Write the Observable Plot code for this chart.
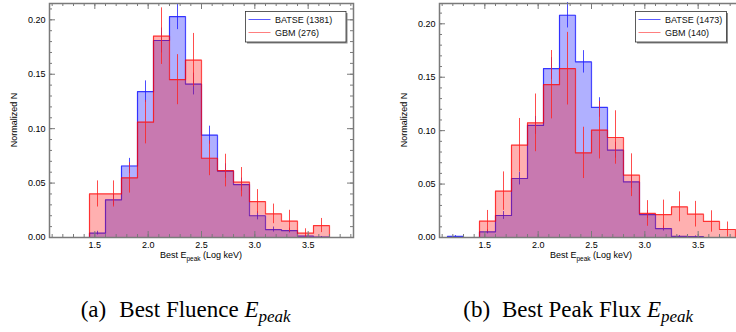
<!DOCTYPE html>
<html><head><meta charset="utf-8">
<script src="https://cdn.jsdelivr.net/npm/d3@7"></script>
<script src="https://cdn.jsdelivr.net/npm/@observablehq/plot@0.6"></script>
<style>
html,body{margin:0;padding:0;background:#fff;}
#wrap{position:relative;width:736px;height:332px;overflow:hidden;font-family:"Liberation Sans",Arial,sans-serif;}
.panel{position:absolute;top:0;}
#cap{position:absolute;left:0;top:0;}
</style></head>
<body><div id="wrap"></div>
<script>
// ---------- data ----------
// (a) Best Fluence Epeak
const edgesA   = [1.45,1.60,1.75,1.90,2.05,2.20,2.35,2.50,2.65,2.80,2.95,3.10,3.25,3.40,3.55,3.70];
const batseA   = [0.004,0.0346,0.0657,0.134,0.181,0.203,0.141,0.094,0.061,0.0486,0.020,0.0073,0.0064,0.0012,0.0003];
const batseErrA= [0.0017,0.005,0.007,0.0099,0.0115,0.012,0.010,0.0083,0.0067,0.006,0.0038,0.0023,0.0022,0.001,0.0005];
const gbmA     = [0.040,0.040,0.0548,0.106,0.185,0.145,0.163,0.0728,0.0615,0.0508,0.033,0.0217,0.015,0.004,0.011];
const gbmErrA  = [0.012,0.012,0.014,0.020,0.026,0.023,0.0245,0.016,0.015,0.0135,0.011,0.009,0.010,0.004,0.0065];
// (b) Best Peak Flux Epeak
const edgesB   = [1.15,1.30,1.45,1.60,1.75,1.90,2.05,2.20,2.35,2.50,2.65,2.80,2.95,3.10,3.25,3.40,3.55,3.70,3.85];
const batseB   = [0.001,0,0.0053,0.0206,0.0552,0.1049,0.158,0.208,0.1644,0.1217,0.0817,0.052,0.0215,0.0084,0.001,0.0008,0,0];
const batseErrB= [0.0008,0,0.0019,0.0037,0.006,0.0084,0.0103,0.0119,0.0105,0.0091,0.0075,0.006,0.0038,0.0024,0.0008,0.0007,0,0];
const gbmB     = [0,0,0.0153,0.0434,0.0864,0.1073,0.143,0.158,0.0792,0.1005,0.0936,0.0583,0.0225,0.0215,0.0287,0.0218,0.015,0.0075];
const gbmErrB  = [0,0,0.010,0.018,0.025,0.027,0.032,0.034,0.024,0.027,0.025,0.020,0.012,0.0135,0.014,0.012,0.010,0.007];
// axes
const xDomain = [1.075, 3.925];
const xMajor = [1.5, 2.0, 2.5, 3.0, 3.5];
const xMinor = d3.range(11, 40).map(d => d / 10);
const yMajor = [0, 0.05, 0.10, 0.15, 0.20];
const yMinor = d3.range(0, 22).map(d => d / 100);
const legendA = ["BATSE (1381)", "GBM (276)"];
const legendB = ["BATSE (1473)", "GBM (140)"];

const W = 368, H = 262, mL = 49, mR = 15, mT = 3, mB = 25;
const FW = W - mL - mR, FH = H - mT - mB;
const BLUE = "#0000ff", RED = "#ff0000", FRAME = "#7a7a7a";

function panel(edges, blue, blueErr, red, redErr, yMax, legend, legendW) {
  const n = blue.length;
  const bins = d3.range(n).map(i => ({x1: edges[i], x2: edges[i + 1], xc: (edges[i] + edges[i + 1]) / 2,
    b: blue[i], be: blueErr[i], r: red[i], re: redErr[i]}));
  const step = vals => [{x: edges[0], y: 0}, ...vals.map((v, i) => ({x: edges[i], y: v})),
    {x: edges[n], y: vals[n - 1]}, {x: edges[n], y: 0}];
  const svg = Plot.plot({
    width: W, height: H, marginLeft: mL, marginRight: mR, marginTop: mT, marginBottom: mB,
    style: {fontFamily: '"Liberation Sans", Arial, sans-serif', fontSize: "9px", color: "#000", background: "transparent", overflow: "visible"},
    x: {domain: xDomain},
    y: {domain: [0, yMax]},
    marks: [
      Plot.rect(bins, {x1: "x1", x2: "x2", y1: () => 0, y2: "b", fill: BLUE, fillOpacity: 0.31}),
      Plot.line(step(blue), {x: "x", y: "y", curve: "step-after", stroke: BLUE, strokeOpacity: 0.72, strokeWidth: 1.2}),
      Plot.ruleX(bins.filter(d => d.be > 0), {x: "xc", y1: d => d.b - d.be, y2: d => d.b + d.be, stroke: "#2020ff", strokeOpacity: 0.8, strokeWidth: 1}),
      Plot.rect(bins, {x1: "x1", x2: "x2", y1: () => 0, y2: "r", fill: RED, fillOpacity: 0.31}),
      Plot.line(step(red), {x: "x", y: "y", curve: "step-after", stroke: RED, strokeOpacity: 0.72, strokeWidth: 1.2}),
      Plot.ruleX(bins.filter(d => d.re > 0), {x: "xc", y1: d => Math.max(0, d.r - d.re), y2: d => d.r + d.re, stroke: "#ff2020", strokeOpacity: 0.8, strokeWidth: 1}),
      // inward ticks on all four sides
      Plot.tickX(xMinor, {x: d => d, insetTop: FH - 3, stroke: FRAME}),
      Plot.tickX(xMinor, {x: d => d, insetBottom: FH - 3, stroke: FRAME}),
      Plot.tickX(xMajor, {x: d => d, insetTop: FH - 6, stroke: FRAME}),
      Plot.tickX(xMajor, {x: d => d, insetBottom: FH - 6, stroke: FRAME}),
      Plot.tickY(yMinor, {y: d => d, insetRight: FW - 3, stroke: FRAME}),
      Plot.tickY(yMinor, {y: d => d, insetLeft: FW - 3, stroke: FRAME}),
      Plot.tickY(yMajor, {y: d => d, insetRight: FW - 6, stroke: FRAME}),
      Plot.tickY(yMajor, {y: d => d, insetLeft: FW - 6, stroke: FRAME}),
      Plot.frame({stroke: FRAME, strokeWidth: 1.5}),
      Plot.axisX(xMajor, {tickSize: 0, tickPadding: 4, tickFormat: d3.format(".1f"), label: null, fontSize: 9}),
      Plot.axisY(yMajor, {tickSize: 0, tickPadding: 4, tickFormat: d3.format(".2f"), label: null, fontSize: 9})
    ]
  });
  const s = d3.select(svg);
  // y label
  s.append("text").attr("transform", `translate(${mL - 35},${mT + FH / 2}) rotate(-90)`)
    .attr("text-anchor", "middle").attr("dy", "0.35em").attr("font-size", 9).attr("fill", "#000").text("Normalized N");
  // x label with subscript
  const xl = s.append("text").attr("x", mL + FW / 2).attr("y", 258).attr("text-anchor", "middle")
    .attr("font-size", 9).attr("fill", "#000");
  xl.append("tspan").text("Best E");
  xl.append("tspan").attr("font-size", 6.5).attr("dy", 2.5).text("peak");
  xl.append("tspan").attr("dy", -2.5).text(" (Log keV)");
  // legend
  const lx = 245.5, ly = 11.5, lh = 30.5;
  const g = s.append("g").attr("text-anchor", "start");
  g.append("rect").attr("x", lx + 1.5).attr("y", ly + 1.5).attr("width", legendW).attr("height", lh).attr("fill", "#8a8a8a");
  g.append("rect").attr("x", lx).attr("y", ly).attr("width", legendW).attr("height", lh).attr("fill", "#fff").attr("stroke", "#333").attr("stroke-width", 0.8);
  [[BLUE, 0.65, legend[0]], [RED, 0.5, legend[1]]].forEach(([c, o, t], i) => {
    const y = ly + 8 + i * 13;
    g.append("line").attr("x1", lx + 3).attr("x2", lx + 25).attr("y1", y).attr("y2", y).attr("stroke", c).attr("stroke-opacity", o);
    g.append("text").attr("x", lx + 29.5).attr("y", y).attr("dy", "0.35em").attr("text-anchor", "start")
      .attr("font-size", 9).attr("fill", "#111").text(t);
  });
  return svg;
}

const wrap = document.getElementById("wrap");
const pa = panel(edgesA, batseA, batseErrA, gbmA, gbmErrA, 0.215, legendA, 100.5);
pa.classList.add("panel"); pa.style.left = "0px";
const pb = panel(edgesB, batseB, batseErrB, gbmB, gbmErrB, 0.219, legendB, 91);
pb.classList.add("panel"); pb.style.left = "390px";
wrap.appendChild(pa); wrap.appendChild(pb);

// captions
const cap = d3.select(wrap).append("svg").attr("id", "cap").attr("width", 736).attr("height", 332)
  .style("font-family", '"Liberation Serif", "Times New Roman", serif').style("font-size", "23px");
function caption(x0, label, title) {
  const t = cap.append("text").attr("y", 316.5).attr("fill", "#000");
  t.append("tspan").attr("x", x0).text(label);
  t.append("tspan").attr("x", x0 + 38.6).text(title + " ");
  t.append("tspan").attr("font-style", "italic").text("E");
  t.append("tspan").attr("font-style", "italic").attr("font-size", "17px").attr("dy", 5).text("peak");
}
caption(80.7, "(a)", "Best Fluence");
caption(463.3, "(b)", "Best Peak Flux");
</script>
</body></html>
